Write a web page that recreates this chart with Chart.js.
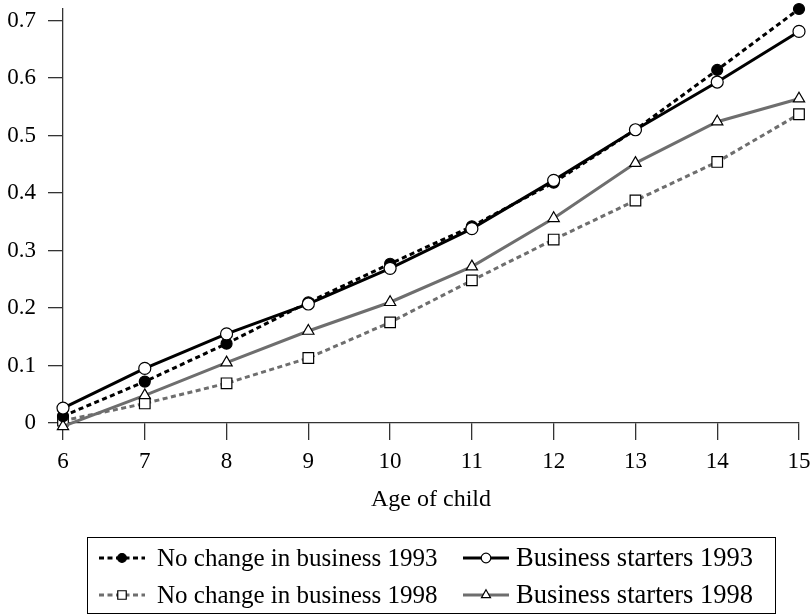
<!DOCTYPE html>
<html>
<head>
<meta charset="utf-8">
<script src="https://cdn.jsdelivr.net/npm/chart.js@4/dist/chart.umd.min.js"></script>
<style>
  html, body { margin: 0; padding: 0; background: #fff; }
  #wrap { width: 812px; height: 616px; position: relative; }
</style>
</head>
<body>
<div id="wrap"><canvas id="chart"></canvas></div>
<script>
// dados
const ages = [6, 7, 8, 9, 10, 11, 12, 13, 14, 15];
const noChange1993 = [0.012, 0.072, 0.138, 0.21, 0.277, 0.342, 0.418, 0.51, 0.614, 0.72];
const starters1993 = [0.026, 0.095, 0.155, 0.207, 0.269, 0.338, 0.422, 0.51, 0.593, 0.681];
const noChange1998 = [0.004, 0.034, 0.069, 0.113, 0.175, 0.248, 0.319, 0.387, 0.454, 0.537];
const starters1998 = [-0.006, 0.048, 0.105, 0.16, 0.21, 0.272, 0.356, 0.452, 0.524, 0.564];
const yTicks = [0, 0.1, 0.2, 0.3, 0.4, 0.5, 0.6, 0.7];
const seriesNames = [
  "No change in business 1993",
  "Business starters 1993",
  "No change in business 1998",
  "Business starters 1998"
];

const FONT = "'Liberation Serif', 'Times New Roman', serif";
const GRAY = "#6e6e6e";
const AXIS = "#333";

// legenda com moldura, 2 colunas x 2 linhas
const boxLegend = {
  id: "boxLegend",
  afterDraw(chart) {
    const ctx = chart.ctx;
    const left = 87, top = 537, w = 688, h = 76;
    ctx.save();
    ctx.strokeStyle = "#000";
    ctx.lineWidth = 1;
    ctx.strokeRect(left + 0.5, top + 0.5, w, h);

    const cols = [{ sym: left + 12, txt: left + 70 }, { sym: left + 376, txt: left + 429 }];
    const rows = [top + 21, top + 58];

    chart.data.datasets.forEach((ds, i) => {
      const c = cols[i % 2], y = rows[Math.floor(i / 2)];
      const len = 46;
      ctx.save();
      ctx.strokeStyle = ds.borderColor;
      ctx.lineWidth = ds.borderWidth;
      ctx.setLineDash(ds.borderDash || []);
      ctx.beginPath();
      ctx.moveTo(c.sym, y);
      ctx.lineTo(c.sym + len, y);
      ctx.stroke();
      ctx.restore();

      ctx.save();
      ctx.fillStyle = ds.pointBackgroundColor;
      ctx.strokeStyle = ds.pointBorderColor;
      ctx.lineWidth = 1.2;
      Chart.helpers.drawPoint(ctx, {
        pointStyle: ds.pointStyle,
        radius: ds.pointRadius * 0.8,
        rotation: 0,
        borderWidth: 1.2
      }, c.sym + len / 2, y);
      ctx.restore();

      ctx.fillStyle = "#000";
      ctx.font = (i % 2 ? "26.5px " : "25px ") + FONT;
      ctx.textBaseline = "middle";
      ctx.textAlign = "left";
      ctx.fillText(seriesNames[i], c.txt, y + 1);
    });
    ctx.restore();
  }
};

function serie(label, data, cor, dash, estilo, raio, fundo, ordem) {
  return {
    label: label,
    data: data,
    borderColor: cor,
    borderWidth: 3,
    borderDash: dash,
    pointStyle: estilo,
    pointRadius: raio,
    pointBackgroundColor: fundo,
    pointBorderColor: "#000",
    pointBorderWidth: 1.2,
    tension: 0,
    clip: false,
    order: ordem
  };
}

new Chart(document.getElementById("chart").getContext("2d"), {
  type: "line",
  data: {
    labels: ages,
    datasets: [
      serie(seriesNames[0], noChange1993, "#000", [5, 3.5], "circle", 5.5, "#000", 1),
      serie(seriesNames[1], starters1993, "#000", [], "circle", 6, "#fff", 0),
      serie(seriesNames[2], noChange1998, GRAY, [5, 3.5], "rect", 7.5, "#fff", 3),
      serie(seriesNames[3], starters1998, GRAY, [], "triangle", 6.5, "#fff", 2)
    ]
  },
  options: {
    responsive: true,
    maintainAspectRatio: false,
    animation: false,
    layout: { padding: { left: 0, right: 13, top: 9, bottom: 0 } },
    plugins: {
      legend: { display: false },
      tooltip: { enabled: false }
    },
    scales: {
      x: {
        type: "category",
        offset: false,
        afterFit(scale) {
          scale.height = 193;
          scale.paddingLeft = 0;
          scale.paddingRight = 0;
        },
        border: { display: true, color: AXIS, width: 1.3 },
        grid: { display: true, drawOnChartArea: false, drawTicks: true, tickLength: 17, color: AXIS, lineWidth: 1.3 },
        ticks: { color: "#000", font: { family: FONT, size: 23 }, padding: 8, maxRotation: 0, autoSkip: false },
        title: {
          display: true,
          text: "Age of child",
          color: "#000",
          font: { family: FONT, size: 24 },
          padding: { top: 0, bottom: 102 }
        }
      },
      y: {
        min: 0,
        max: 0.72,
        afterFit(scale) {
          scale.width = 63;
          scale.paddingTop = 0;
          scale.paddingBottom = 0;
        },
        afterBuildTicks(scale) { scale.ticks = yTicks.map(v => ({ value: v })); },
        border: { display: true, color: AXIS, width: 1.3 },
        grid: { display: true, drawOnChartArea: false, drawTicks: true, tickLength: 15, color: AXIS, lineWidth: 1.3 },
        ticks: {
          color: "#000",
          font: { family: FONT, size: 23 },
          padding: 12,
          callback: v => v === 0 ? "0" : v.toFixed(1)
        }
      }
    }
  },
  plugins: [boxLegend]
});
</script>
</body>
</html>
